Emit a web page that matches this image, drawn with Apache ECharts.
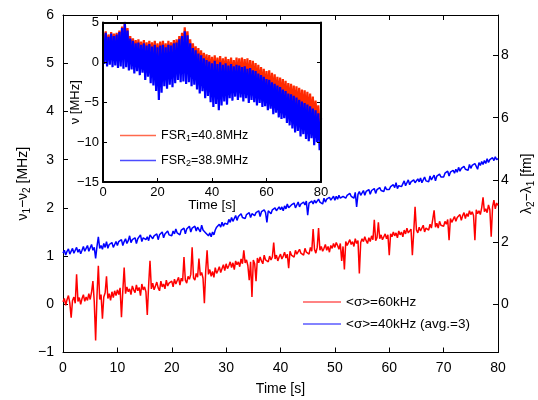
<!DOCTYPE html>
<html><head><meta charset="utf-8">
<script src="https://cdn.jsdelivr.net/npm/echarts@6/dist/echarts.min.js"></script>
<style>html,body{margin:0;padding:0;background:#fff}#c{width:538px;height:400px}</style>
</head><body><div id="c"></div>
<script>
// sampling steps (s)
const mainStep = 0.25;
const insetStep = 0.5;
const mainXTicks = [0, 80, 10];
const insetXTicks = [0, 80, 20];
const leftYTicks = [-1, 6, 1];
const rightYLabels = [0, 2, 4, 6, 8];
const insetYTicks = [-15, 5, 5];

// main plot: nu1 - nu2 [MHz], one row per 10 s
const redMain = [
 0.05,0.12,-0.02,0.10,0.18,0.03,-0.28,0.08,0.15,0.02,0.62,0.06,0.14,0.00,0.12,0.20,0.06,0.15,0.08,0.22,
 0.10,0.25,0.48,0.05,-0.75,0.18,0.80,0.10,0.20,-0.30,0.15,0.24,0.58,0.12,0.22,0.08,0.26,0.14,0.28,0.18,
 0.30,0.20,0.34,-0.27,0.28,0.76,0.22,0.36,0.26,0.32,0.20,0.38,0.30,0.24,0.40,0.28,0.35,0.18,0.42,0.30,
 0.36,0.26,-0.22,0.40,0.90,0.32,0.44,0.30,0.38,0.46,0.34,0.28,0.48,0.36,0.42,0.32,0.50,0.38,0.44,0.40,
 0.48,0.36,0.52,0.42,0.46,0.56,0.40,0.54,0.48,0.98,0.50,0.44,0.58,0.52,0.62,1.18,0.55,0.50,0.64,0.56,
 0.95,0.60,0.66,0.54,0.02,0.70,1.12,0.62,0.72,0.58,0.68,0.56,0.76,0.64,0.70,0.78,0.66,0.74,0.82,0.70,
 0.84,0.74,0.80,0.88,0.76,0.86,0.72,0.90,0.82,0.88,0.78,0.94,0.84,1.12,0.86,0.92,0.80,0.50,0.88,0.15,
 0.92,0.84,0.48,0.96,0.86,0.98,0.90,0.84,1.02,0.92,0.96,0.88,1.00,0.92,0.98,1.28,0.94,1.02,0.90,0.98,
 1.04,0.94,1.00,1.08,0.96,1.04,0.75,1.10,1.02,1.06,0.98,1.12,1.04,1.00,1.14,1.06,1.10,1.02,1.16,1.08,
 1.12,1.04,1.18,1.10,1.56,1.14,1.06,1.18,1.58,1.12,1.20,1.10,1.16,1.24,1.12,1.20,1.08,1.22,1.16,1.26,
 1.18,1.28,1.22,1.14,1.26,0.90,1.20,0.72,1.30,1.22,1.28,1.34,1.24,1.30,1.20,1.36,1.26,1.32,0.64,1.28,
 1.36,1.30,1.40,1.32,1.26,1.38,1.30,1.42,1.34,1.75,1.32,1.38,1.70,1.36,1.44,1.34,1.40,1.46,1.36,1.44,
 1.02,1.46,1.40,1.50,1.42,1.48,1.38,1.52,1.44,1.50,1.40,1.54,1.46,1.58,1.48,1.52,1.56,1.02,1.50,2.02,
 1.54,1.48,1.60,1.52,1.56,1.64,1.50,1.58,1.62,1.54,1.66,1.58,1.62,1.95,1.60,1.68,1.58,1.72,1.64,1.68,
 1.62,1.72,1.66,1.76,1.33,1.78,1.70,1.74,1.82,1.72,1.80,1.76,1.86,1.74,1.84,1.90,1.78,1.88,1.82,1.94,
 1.86,1.92,1.84,1.33,1.96,1.88,1.94,1.86,2.00,2.22,1.92,1.98,1.90,2.06,1.96,1.40,2.02,2.16,1.98,2.10,
 2.05
];
const blueMain = [
 1.06,1.12,1.02,1.10,1.15,1.04,1.08,1.16,1.06,1.12,1.18,1.08,1.14,1.05,1.12,1.20,1.10,1.16,1.22,1.10,
 1.14,1.24,1.12,1.18,0.95,1.20,1.40,1.16,1.22,1.14,1.26,1.18,1.30,1.16,1.24,1.20,1.28,1.18,1.24,1.30,
 1.22,1.30,1.26,1.34,1.22,1.30,1.36,1.26,1.32,1.42,1.28,1.34,1.30,1.38,1.26,1.36,1.32,1.44,1.30,1.38,
 1.42,1.34,1.40,1.32,1.44,1.48,1.36,1.42,1.38,1.46,1.34,1.44,1.40,1.50,1.38,1.46,1.42,1.52,1.44,1.48,
 1.42,1.52,1.46,1.56,1.48,1.52,1.44,1.54,1.50,1.58,1.46,1.56,1.52,1.62,1.50,1.58,1.54,1.62,1.52,1.60,
 1.56,1.50,1.64,1.54,1.58,1.48,1.52,1.42,1.48,1.40,1.50,1.44,1.54,1.60,1.56,1.66,1.60,1.70,1.62,1.68,
 1.72,1.66,1.76,1.70,1.80,1.72,1.78,1.84,1.74,1.82,1.78,1.88,1.80,1.84,1.78,1.86,1.82,1.90,1.80,1.88,
 1.92,1.84,1.90,1.86,1.94,1.82,1.92,1.88,1.96,1.90,1.70,1.94,1.98,1.88,1.96,1.92,2.00,1.94,1.98,2.02,
 1.96,2.02,1.94,2.04,1.98,2.08,2.00,1.96,2.06,2.02,2.10,2.00,2.06,2.12,2.02,2.08,2.04,2.12,2.06,2.14,
 1.85,2.10,2.06,2.14,2.08,2.16,2.10,2.06,2.18,2.12,2.16,2.08,2.20,2.12,2.18,2.14,2.22,2.16,2.20,2.24,
 2.16,2.24,2.18,2.26,2.20,2.16,2.24,2.28,2.20,2.26,2.22,2.30,2.24,2.28,2.20,2.32,2.02,2.28,2.34,2.26,
 2.30,2.36,2.26,2.34,2.30,2.38,2.28,2.36,2.32,2.40,2.30,2.38,2.34,2.42,2.36,2.40,2.34,2.44,2.38,2.42,
 2.38,2.44,2.40,2.48,2.42,2.52,2.40,2.46,2.50,2.44,2.48,2.56,2.46,2.52,2.58,2.48,2.54,2.50,2.58,2.52,
 2.48,2.60,2.54,2.62,2.52,2.58,2.64,2.56,2.60,2.54,2.66,2.58,2.62,2.68,2.56,2.66,2.62,2.70,2.64,2.68,
 2.64,2.72,2.68,2.76,2.66,2.74,2.70,2.78,2.72,2.80,2.74,2.84,2.76,2.82,2.78,2.86,2.80,2.84,2.78,2.90,
 2.82,2.88,2.84,2.92,2.86,2.80,2.94,2.88,2.96,2.90,2.98,2.92,3.02,2.94,3.00,2.96,3.04,2.98,3.06,3.00,
 3.02
];
// inset: nu [MHz]
const redInset = [
 3.8,1.5,3.9,1.2,3.5,1.6,3.8,1.3,3.6,1.5,3.7,1.4,4.0,1.8,4.5,2.0,5.0,2.2,4.3,1.6,
 3.3,1.0,3.0,0.8,2.8,0.6,2.9,0.5,2.6,0.4,2.8,0.3,2.5,0.2,2.7,0.1,2.5,0.0,2.7,0.0,
 2.4,-0.1,2.6,0.0,2.7,0.2,2.4,0.1,2.7,0.2,2.5,0.3,2.8,0.5,2.9,0.7,3.3,1.0,3.7,1.3,
 4.4,1.5,3.9,1.0,2.9,0.5,2.4,0.0,2.0,-0.5,1.8,-0.8,1.5,-1.0,1.2,-1.3,1.0,-1.5,0.9,-1.6,
 0.7,-1.8,0.9,-1.8,0.6,-1.9,0.8,-2.0,0.5,-2.0,0.7,-2.1,0.4,-2.1,0.6,-2.2,0.3,-2.2,0.6,-2.3,
 0.5,-2.4,0.6,-2.5,0.4,-2.6,0.5,-2.8,0.3,-2.9,0.2,-3.0,-0.1,-3.2,-0.3,-3.4,-0.6,-3.6,-0.8,-3.8,
 -1.1,-4.0,-1.0,-4.2,-1.3,-4.4,-1.5,-4.6,-1.8,-4.8,-1.9,-5.0,-2.1,-5.2,-2.3,-5.4,-2.6,-5.6,-2.7,-5.8,
 -2.9,-6.0,-3.0,-6.2,-3.2,-6.4,-3.4,-6.6,-3.5,-6.8,-3.7,-7.0,-3.9,-7.2,-4.3,-7.4,-4.8,-7.6,-5.4,-7.8,
 -6.6
];
const blueInset = [
 3.5,-0.2,3.7,-0.5,3.2,-0.3,3.6,-0.6,3.3,-0.4,3.5,-0.7,3.8,-0.5,4.3,-0.8,5.1,-0.6,4.0,-1.0,
 3.0,-0.9,2.7,-1.4,2.4,-1.1,2.5,-1.6,2.2,-1.3,2.4,-2.2,2.1,-1.8,2.3,-2.6,2.0,-2.9,2.2,-3.6,
 1.9,-4.7,2.1,-3.8,2.2,-3.0,1.9,-3.3,2.2,-2.8,2.1,-3.1,2.4,-2.6,2.5,-2.2,2.9,-2.5,3.3,-2.4,
 3.9,-2.7,3.4,-2.5,2.4,-3.0,1.8,-2.8,1.5,-3.4,1.1,-3.9,0.9,-3.6,0.5,-4.5,0.3,-4.2,0.1,-5.0,
 -0.1,-5.6,0.2,-5.2,-0.2,-6.0,0.0,-5.4,-0.3,-4.9,-0.1,-5.3,-0.4,-4.5,-0.2,-4.8,-0.5,-4.3,-0.3,-4.7,
 -0.4,-4.4,-0.6,-4.9,-0.5,-4.5,-0.8,-5.1,-0.7,-4.7,-1.0,-5.0,-1.1,-5.4,-1.4,-5.1,-1.6,-5.6,-1.8,-5.5,
 -2.1,-6.0,-2.2,-5.8,-2.5,-6.5,-2.7,-6.3,-2.9,-6.9,-3.1,-7.1,-3.4,-7.0,-3.6,-7.6,-3.9,-7.9,-4.0,-8.3,
 -4.2,-8.8,-4.4,-8.6,-4.7,-9.3,-4.9,-9.0,-5.1,-9.6,-5.3,-9.9,-5.5,-9.5,-5.8,-10.4,-6.0,-10.0,-6.4,-11.0,
 -7.0
];
const mainNames = ['<σ>=60kHz', '<σ>=40kHz (avg.=3)'];
const insetNames = ['FSR1', 'FSR2'];
const insetLegendText = {FSR1: ['1', '=40.8MHz'], FSR2: ['2', '=38.9MHz']};

function pairs(arr, step) { return arr.map((v, i) => [i * step, v]); }
const F = '"Liberation Sans", Arial, Helvetica, sans-serif';
const fmtMinus = v => String(v).replace('-', '\u2212');
const RED = '#ff0000', BLUE = '#0000ff', RED2 = '#ff2a00';
const subRich = (fs, sfs, pad) => ({
  a: {fontSize: fs, fontFamily: F, color: '#000', lineHeight: fs + 3},
  s: {fontSize: sfs, fontFamily: F, color: '#000', lineHeight: sfs, padding: [pad, 0, 0, 0]}
});

function xAx(grid, ticks, opts) {
  return Object.assign({
    gridIndex: grid, type: 'value', min: ticks[0], max: ticks[1], interval: ticks[2],
    axisLine: {show: true, onZero: false, lineStyle: {color: '#000', width: 1}},
    axisTick: {show: true, inside: true, length: 5, lineStyle: {color: '#000', width: 1}},
    axisLabel: {show: true, color: '#000', fontSize: 14, fontFamily: F, margin: 9, formatter: fmtMinus},
    splitLine: {show: false}
  }, opts);
}
const insetLine = {show: true, onZero: false, lineStyle: {color: '#000', width: 2}};
const insetTick = {show: true, inside: true, length: 4, lineStyle: {color: '#000', width: 1}};

const chart = echarts.init(document.getElementById('c'), null, {renderer: 'canvas'});
const option = {
  animation: false,
  backgroundColor: '#fff',
  grid: [
    {left: 63, right: 40, top: 15, bottom: 47.5, show: false, containLabel: false, outerBoundsMode: 'none'},
    {left: 103, top: 22.5, width: 218, height: 159.5, show: true, backgroundColor: '#fff', borderWidth: 0, z: 5,
      containLabel: false, outerBoundsMode: 'none'}
  ],
  xAxis: [
    xAx(0, mainXTicks, {name: 'Time [s]', nameLocation: 'middle', nameGap: 30, nameMoveOverlap: false,
      nameTextStyle: {color: '#000', fontSize: 14, fontFamily: F}}),
    xAx(0, mainXTicks, {position: 'top', axisLabel: {show: false}}),
    xAx(1, insetXTicks, {z: 7, name: 'Time [s]', nameLocation: 'middle', nameGap: 16, nameMoveOverlap: false,
      nameTextStyle: {color: '#000', fontSize: 13.5, fontFamily: F},
      axisLine: insetLine, axisTick: insetTick,
      axisLabel: {show: true, color: '#000', fontSize: 13, fontFamily: F, margin: 4, formatter: fmtMinus}}),
    xAx(1, insetXTicks, {z: 7, position: 'top', axisLabel: {show: false}, axisLine: insetLine, axisTick: insetTick})
  ],
  yAxis: [
    xAx(0, leftYTicks, {position: 'left', name: '{a|ν}{s|1}{a|−ν}{s|2}{a| [MHz]}', nameLocation: 'middle',
      nameGap: 31, nameRotate: 90, nameMoveOverlap: false, nameTextStyle: {rich: subRich(14, 10, 7)}}),
    {gridIndex: 0, type: 'value', position: 'right', min: -1.55, max: 9.3,
      axisLine: {show: true, onZero: false, lineStyle: {color: '#000', width: 1}},
      axisTick: {show: true, inside: true, length: 5, customValues: rightYLabels, lineStyle: {color: '#000', width: 1}},
      axisLabel: {show: true, customValues: rightYLabels, color: '#000', fontSize: 14, fontFamily: F, margin: 3},
      splitLine: {show: false},
      name: '{a|λ}{s|2}{a|−λ}{s|1}{a| [fm]}', nameLocation: 'middle', nameGap: 21, nameRotate: 90, nameMoveOverlap: false,
      nameTextStyle: {rich: subRich(14, 10, 7)}},
    xAx(1, insetYTicks, {z: 7, position: 'left', name: 'ν [MHz]', nameLocation: 'middle', nameGap: 21, nameRotate: 90,
      nameMoveOverlap: false,
      nameTextStyle: {color: '#000', fontSize: 13, fontFamily: F},
      axisLine: insetLine, axisTick: insetTick,
      axisLabel: {show: true, color: '#000', fontSize: 13, fontFamily: F, margin: 4, formatter: fmtMinus}}),
    xAx(1, insetYTicks, {z: 7, position: 'right', axisLabel: {show: false}, axisLine: insetLine, axisTick: insetTick})
  ],
  legend: [
    {data: [mainNames[0]], left: 303, top: 294, padding: 0, icon: 'rect', itemWidth: 38, itemHeight: 1.5,
      selectedMode: false, itemStyle: {opacity: 0.65}, textStyle: {color: '#000', fontSize: 13.5, fontFamily: F, lineHeight: 16}},
    {data: [mainNames[1]], left: 303, top: 316, padding: 0, icon: 'rect', itemWidth: 38, itemHeight: 1.5,
      selectedMode: false, itemStyle: {opacity: 0.65}, textStyle: {color: '#000', fontSize: 13.5, fontFamily: F, lineHeight: 16}},
    {data: [insetNames[0]], left: 120, top: 128, padding: 0, icon: 'rect', itemWidth: 36, itemHeight: 1.5, z: 9,
      selectedMode: false, itemStyle: {opacity: 0.7},
      formatter: n => '{a|FSR}{s|' + insetLegendText[n][0] + '}{a|' + insetLegendText[n][1] + '}',
      textStyle: {rich: subRich(12.5, 9, 6)}},
    {data: [insetNames[1]], left: 120, top: 153, padding: 0, icon: 'rect', itemWidth: 36, itemHeight: 1.5, z: 9,
      selectedMode: false, itemStyle: {opacity: 0.7},
      formatter: n => '{a|FSR}{s|' + insetLegendText[n][0] + '}{a|' + insetLegendText[n][1] + '}',
      textStyle: {rich: subRich(12.5, 9, 6)}}
  ],
  series: [
    {name: mainNames[0], type: 'line', xAxisIndex: 0, yAxisIndex: 0, data: pairs(redMain, mainStep), symbol: 'none',
      color: RED, lineStyle: {color: RED, width: 1.5}, z: 2},
    {name: mainNames[1], type: 'line', xAxisIndex: 0, yAxisIndex: 0, data: pairs(blueMain, mainStep), symbol: 'none',
      color: BLUE, lineStyle: {color: BLUE, width: 1.5}, z: 2},
    {name: insetNames[0], type: 'line', xAxisIndex: 2, yAxisIndex: 2, data: pairs(redInset, insetStep), symbol: 'none',
      color: RED2, lineStyle: {color: RED2, width: 2.2}, z: 6},
    {name: insetNames[1], type: 'line', xAxisIndex: 2, yAxisIndex: 2, data: pairs(blueInset, insetStep), symbol: 'none',
      color: BLUE, lineStyle: {color: BLUE, width: 2.2}, z: 6}
  ]
};
chart.setOption(option);
</script></body></html>
